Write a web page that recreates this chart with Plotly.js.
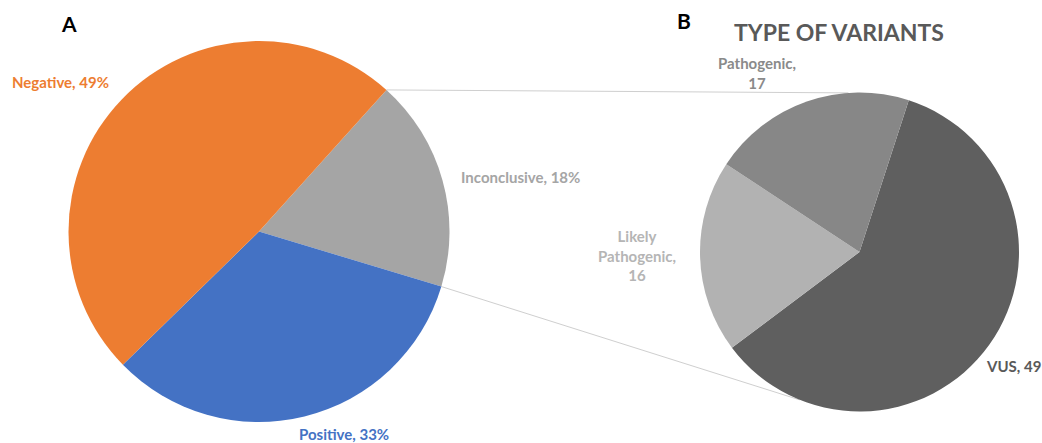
<!DOCTYPE html>
<html>
<head>
<meta charset="utf-8">
<script src="https://cdn.plot.ly/plotly-3.0.1.min.js"></script>
<style>html,body{margin:0;padding:0;background:#fff;}#chart{width:1042px;height:443px;}</style>
</head>
<body>
<div id="chart"></div>
<script>
// ---- Data ----
const resultLabels = ["Inconclusive", "Positive", "Negative"];
const resultPercents = [18, 33, 49];
const resultColors = ["#A5A5A5", "#4472C4", "#ED7D31"];

const variantLabels = ["VUS", "Likely Pathogenic", "Pathogenic"];
const variantCounts = [49, 16, 17];
const variantColors = ["#5F5F5F", "#B2B2B2", "#878787"];

const panelTitle = "TYPE OF VARIANTS";

// ---- Layout geometry ----
const W = 1042, H = 443;
const FONT = "Lato, 'Open Sans', sans-serif";
const domA = {x: [68.5 / W, 449.5 / W], y: [1 - 422 / H, 1 - 41 / H]};
const domB = {x: [700 / W, 1019 / W], y: [1 - 411.5 / H, 1 - 92.5 / H]};
const rotA = 42, rotB = 18;

function geom(dom) {
  const x0 = dom.x[0] * W, x1 = dom.x[1] * W;
  const y0 = (1 - dom.y[1]) * H, y1 = (1 - dom.y[0]) * H;
  return {cx: (x0 + x1) / 2, cy: (y0 + y1) / 2, r: Math.min(x1 - x0, y1 - y0) / 2};
}
function pt(g, deg) {
  const a = deg * Math.PI / 180;
  return {x: (g.cx + g.r * Math.sin(a)) / W, y: 1 - (g.cy - g.r * Math.cos(a)) / H};
}
const gA = geom(domA), gB = geom(domB);
const totA = resultPercents.reduce((a, b) => a + b, 0);
// Boundaries of the "Inconclusive" slice (first slice, clockwise from rotA)
const incStart = rotA;
const incEnd = rotA + 360 * resultPercents[0] / totA;
const pA1 = pt(gA, incStart), pA2 = pt(gA, incEnd);
const pB1 = pt(gB, -4), pB2 = pt(gB, 202);

const data = [
  {
    type: "pie", labels: resultLabels, values: resultPercents,
    marker: {colors: resultColors, line: {width: 0}},
    sort: false, direction: "clockwise", rotation: rotA,
    textinfo: "none", hoverinfo: "label+percent", domain: domA, showlegend: false
  },
  {
    type: "pie", labels: variantLabels, values: variantCounts,
    marker: {colors: variantColors, line: {width: 0}},
    sort: false, direction: "clockwise", rotation: rotB,
    textinfo: "none", hoverinfo: "label+value", domain: domB, showlegend: false
  }
];

function ann(text, x, y, color, size) {
  return {text: text, x: x / W, y: 1 - y / H, xref: "paper", yref: "paper",
    showarrow: false, xanchor: "center", yanchor: "middle",
    font: {family: FONT, size: size || 15, color: color, weight: "bold"}};
}
const b = s => "<b>" + s + "</b>";

const annotations = [
  ann(b("A"), 69, 23, "#000000", 21),
  ann(b("B"), 684, 21, "#000000", 21),
  ann(b(panelTitle), 839, 32, "#595959", 23),
  ann(b(resultLabels[2] + ", " + resultPercents[2] + "%"), 60, 82, resultColors[2]),
  ann(b(resultLabels[0] + ", " + resultPercents[0] + "%"), 520, 177, resultColors[0]),
  ann(b(resultLabels[1] + ", " + resultPercents[1] + "%"), 344, 434, resultColors[1]),
  ann(b(variantLabels[2] + ",<br>" + variantCounts[2]), 757, 73, "#8A8A8A"),
  ann(b("Likely<br>Pathogenic,<br>" + variantCounts[1]), 637, 255, "#B5B5B5"),
  ann(b(variantLabels[0] + ", " + variantCounts[0]), 1013, 366, "#595959")
];

const shapes = [
  {type: "line", xref: "paper", yref: "paper", x0: pA1.x, y0: pA1.y, x1: pB1.x, y1: pB1.y,
   line: {color: "#CFCFCF", width: 1}, layer: "below"},
  {type: "line", xref: "paper", yref: "paper", x0: pA2.x, y0: pA2.y, x1: pB2.x, y1: pB2.y,
   line: {color: "#CFCFCF", width: 1}, layer: "below"}
];

const layout = {
  width: W, height: H,
  margin: {l: 0, r: 0, t: 0, b: 0},
  paper_bgcolor: "#ffffff", plot_bgcolor: "#ffffff",
  font: {family: FONT},
  annotations: annotations, shapes: shapes, showlegend: false
};

Plotly.newPlot("chart", data, layout, {displayModeBar: false, staticPlot: true});
</script>
</body>
</html>
